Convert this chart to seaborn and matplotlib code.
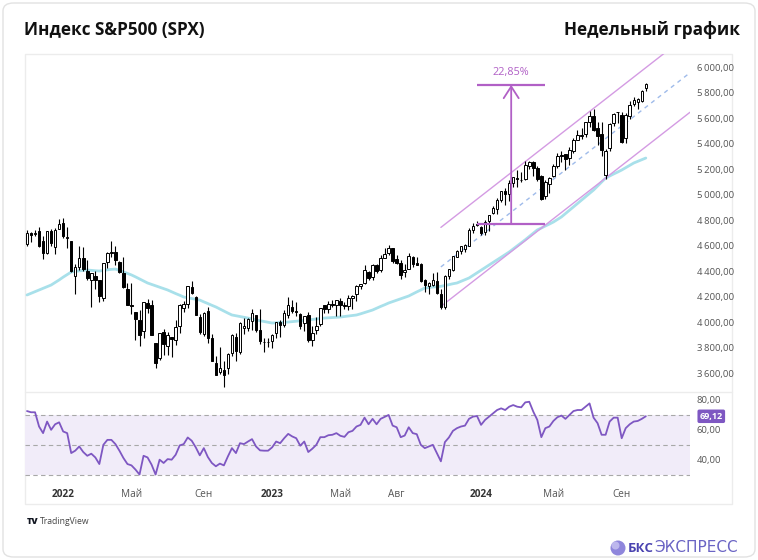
import numpy as np
import pandas as pd
import seaborn as sns
import matplotlib.pyplot as plt
from matplotlib.patches import FancyBboxPatch, Rectangle, Ellipse
from matplotlib.lines import Line2D
from matplotlib.transforms import blended_transform_factory

# Недельные свечи SPX: с первой недели ноября 2021 по середину октября 2024
opens = [4610, 4697, 4689, 4712, 4633, 4542, 4710, 4587, 4733, 4778,
         4655, 4632, 4357, 4431, 4505, 4402, 4332, 4363, 4327, 4188,
         4469, 4541, 4547, 4474, 4385, 4255, 4130, 4082, 4013, 3927,
         4151, 4134, 3838, 3715, 3920, 3815, 3880, 3860, 3965, 4113,
         4140, 4275, 4195, 4041, 3909, 4084, 3872, 3682, 3610, 3620,
         3638, 3755, 3881, 3767, 3950, 3956, 4006, 4053, 3939, 3841,
         3843, 3853, 3910, 3999, 3979, 4053, 4119, 4083, 4065, 3992,
         4055, 3859, 3937, 3982, 4130, 4100, 4138, 4130, 4166, 4136,
         4126, 4190, 4220, 4282, 4308, 4396, 4355, 4450, 4404, 4505,
         4543, 4579, 4492, 4459, 4389, 4415, 4511, 4463, 4453, 4330,
         4284, 4289, 4320, 4217, 4120, 4364, 4406, 4513, 4554, 4570,
         4593, 4725, 4758, 4745, 4703, 4792, 4853, 4888, 4957, 5027,
         5004, 5094, 5131, 5111, 5123, 5220, 5258, 5211, 5149, 4988,
         5084, 5142, 5225, 5310, 5315, 5283, 5341, 5431, 5459, 5471,
         5572, 5616, 5522, 5476, 5151, 5364, 5562, 5644, 5624, 5442,
         5615, 5712, 5727, 5737, 5838]
highs = [4718, 4708, 4718, 4744, 4672, 4713, 4731, 4740, 4808, 4818,
         4748, 4632, 4453, 4595, 4590, 4489, 4385, 4402, 4327, 4465,
         4546, 4637, 4593, 4475, 4513, 4308, 4307, 4082, 4091, 4158,
         4177, 4169, 3838, 3913, 3945, 3918, 3880, 4012, 4140, 4167,
         4280, 4325, 4204, 4062, 4076, 4119, 3906, 3733, 3806, 3694,
         3757, 3905, 3911, 4001, 4028, 4034, 4100, 4053, 4101, 3878,
         3878, 3906, 4003, 4015, 4095, 4195, 4176, 4156, 4067, 4048,
         4078, 3969, 4039, 4110, 4133, 4164, 4170, 4170, 4186, 4154,
         4212, 4212, 4290, 4299, 4448, 4400, 4458, 4456, 4527, 4578,
         4607, 4584, 4528, 4490, 4458, 4541, 4514, 4511, 4464, 4338,
         4317, 4385, 4393, 4255, 4366, 4415, 4521, 4568, 4599, 4609,
         4738, 4778, 4793, 4755, 4802, 4842, 4907, 4975, 5030, 5048,
         5111, 5140, 5190, 5179, 5262, 5265, 5265, 5222, 5151, 5114,
         5139, 5240, 5325, 5341, 5315, 5375, 5447, 5505, 5524, 5570,
         5655, 5670, 5566, 5566, 5360, 5564, 5643, 5651, 5651, 5636,
         5733, 5767, 5757, 5822, 5878]
lows = [4595, 4630, 4672, 4585, 4495, 4532, 4600, 4531, 4733, 4662,
        4582, 4395, 4222, 4405, 4401, 4327, 4114, 4262, 4157, 4161,
        4425, 4506, 4450, 4381, 4267, 4131, 4063, 3859, 3811, 3875,
        4074, 3900, 3636, 3702, 3738, 3742, 3722, 3819, 3911, 4080,
        4112, 4218, 4057, 3907, 3887, 3837, 3693, 3584, 3590, 3491,
        3590, 3735, 3698, 3751, 3906, 3933, 3940, 3918, 3827, 3764,
        3801, 3794, 3877, 3885, 3961, 4030, 4068, 4048, 3944, 3928,
        3846, 3809, 3908, 3966, 4069, 4072, 4114, 4049, 4048, 4099,
        4098, 4103, 4166, 4261, 4298, 4328, 4328, 4385, 4389, 4504,
        4528, 4463, 4457, 4335, 4356, 4414, 4430, 4448, 4316, 4238,
        4216, 4283, 4223, 4104, 4103, 4341, 4401, 4511, 4537, 4546,
        4593, 4697, 4751, 4682, 4682, 4714, 4845, 4845, 4940, 4920,
        4946, 5055, 5057, 5095, 5110, 5203, 5146, 5107, 4953, 4963,
        5011, 5139, 5211, 5256, 5192, 5234, 5325, 5431, 5433, 5448,
        5528, 5497, 5390, 5305, 5119, 5339, 5538, 5560, 5406, 5402,
        5596, 5698, 5674, 5729, 5810]
closes = [4697, 4683, 4698, 4595, 4538, 4712, 4621, 4725, 4766, 4677,
          4663, 4398, 4432, 4501, 4419, 4349, 4385, 4329, 4204, 4463,
          4543, 4546, 4488, 4393, 4272, 4132, 4123, 4024, 3901, 4158,
          4109, 3901, 3675, 3912, 3825, 3899, 3863, 3962, 4130, 4145,
          4280, 4228, 4057, 3924, 4067, 3873, 3693, 3586, 3640, 3583,
          3752, 3901, 3771, 3993, 3965, 4026, 4072, 3934, 3852, 3845,
          3840, 3895, 3999, 3973, 4071, 4136, 4090, 4079, 3970, 4046,
          3862, 3917, 3971, 4109, 4105, 4138, 4133, 4169, 4136, 4124,
          4192, 4205, 4282, 4299, 4409, 4348, 4450, 4399, 4505, 4536,
          4582, 4478, 4464, 4370, 4406, 4516, 4457, 4450, 4320, 4288,
          4309, 4327, 4224, 4117, 4358, 4415, 4514, 4559, 4595, 4604,
          4719, 4755, 4770, 4697, 4784, 4840, 4891, 4959, 5027, 5006,
          5089, 5137, 5124, 5117, 5234, 5254, 5204, 5123, 4967, 5100,
          5128, 5223, 5303, 5305, 5278, 5347, 5431, 5465, 5460, 5567,
          5615, 5505, 5459, 5346, 5344, 5554, 5634, 5648, 5408, 5626,
          5703, 5738, 5751, 5815, 5864]
# скользящая средняя (голубая линия)
ma50 = [4212, 4225, 4238, 4251, 4264, 4277, 4290, 4310, 4330, 4352,
        4372, 4392, 4397, 4401, 4405, 4408, 4405, 4402, 4400, 4404,
        4409, 4413, 4415, 4405, 4393, 4381, 4369, 4354, 4338, 4322,
        4306, 4295, 4284, 4273, 4262, 4251, 4237, 4223, 4210, 4196,
        4190, 4184, 4178, 4172, 4158, 4145, 4131, 4118, 4102, 4086,
        4070, 4055, 4049, 4043, 4037, 4031, 4024, 4016, 4010, 4004,
        3998, 3992, 3994, 3996, 3998, 4000, 4003, 4006, 4010, 4013,
        4016, 4020, 4024, 4027, 4031, 4033, 4035, 4037, 4039, 4043,
        4047, 4051, 4055, 4064, 4074, 4084, 4094, 4108, 4122, 4135,
        4149, 4160, 4171, 4182, 4193, 4204, 4220, 4236, 4251, 4267,
        4270, 4274, 4277, 4280, 4286, 4293, 4300, 4306, 4319, 4332,
        4345, 4365, 4386, 4406, 4427, 4447, 4467, 4488, 4508, 4529,
        4549, 4573, 4596, 4620, 4645, 4671, 4696, 4722, 4737, 4753,
        4768, 4784, 4804, 4824, 4850, 4877, 4903, 4930, 4956, 4982,
        5009, 5035, 5066, 5098, 5129, 5145, 5161, 5176, 5192, 5210,
        5229, 5247, 5260, 5273, 5286]
rsi = [72.6, 71.8, 71.8, 62.3, 57.9, 65.6, 60.1, 63.8, 65.1, 59.0,
       57.9, 44.6, 46.2, 49.0, 45.3, 42.8, 44.2, 41.7, 37.3, 50.1,
       53.4, 53.4, 50.6, 46.2, 41.3, 37.3, 36.4, 33.6, 30.3, 42.8,
       41.7, 36.9, 30.3, 40.2, 38.0, 40.6, 40.2, 43.5, 49.7, 50.6,
       55.0, 52.8, 48.4, 43.1, 47.9, 42.0, 38.0, 35.8, 37.6, 36.4,
       42.4, 47.9, 44.6, 51.2, 50.6, 52.3, 53.9, 49.0, 46.4, 46.2,
       46.2, 48.4, 52.3, 51.2, 54.5, 57.4, 55.7, 54.5, 49.5, 52.3,
       45.3, 47.5, 50.1, 55.2, 55.2, 56.5, 56.8, 57.9, 56.1, 55.4,
       58.5, 59.4, 62.3, 63.4, 68.2, 63.8, 67.4, 63.8, 67.4, 68.7,
       70.0, 62.9, 61.8, 55.2, 56.3, 61.8, 57.9, 57.2, 50.1, 47.9,
       49.0, 50.1, 44.6, 39.1, 51.9, 55.0, 59.4, 61.2, 62.3, 62.9,
       67.4, 68.9, 69.3, 63.4, 66.7, 68.9, 71.1, 73.3, 74.4, 73.3,
       75.5, 76.6, 75.5, 75.1, 78.4, 78.8, 72.2, 66.7, 55.2, 61.2,
       62.3, 66.0, 68.5, 69.6, 67.4, 70.0, 72.6, 73.3, 73.3, 75.5,
       77.7, 68.2, 64.5, 56.8, 56.8, 65.6, 68.2, 68.2, 54.5, 61.2,
       63.8, 65.6, 66.0, 67.4, 69.12]

tick_months = ["2022-01", "2022-05", "2022-09", "2023-01", "2023-05",
               "2023-08", "2024-01", "2024-05", "2024-09"]
tick_labels = ["2022", "Май", "Сен", "2023", "Май", "Авг", "2024", "Май", "Сен"]
price_ticks = [3600, 3800, 4000, 4200, 4400, 4600, 4800, 5000, 5200, 5400, 5600, 5800, 6000]
rsi_ticks = [40, 60, 80]
rsi_levels = [30, 50, 70]

# канал (номера недель и цены на концах)
channel_weeks = [103, 165]
channel_lower = [4122, 5645]
channel_upper = [4742, 6265]
# измерение роста
measure_weeks = [112, 129]
measure_low = 4770
measure_high = 5860

dates = pd.date_range("2021-11-01", periods=len(closes), freq="W-MON")
df = pd.DataFrame({"date": dates, "open": opens, "high": highs, "low": lows,
                   "close": closes, "ma": ma50, "rsi": rsi})
df["n"] = np.arange(len(df))

sns.set_theme(style="white")
plt.rcParams["font.family"] = ["Open Sans", "DejaVu Sans"]

W, H = 758, 560
fig = plt.figure(figsize=(W / 100, H / 100), dpi=100)


def box(x0, y0, x1, y1):
    # пиксели -> доли фигуры
    return [x0 / W, 1 - y1 / H, (x1 - x0) / W, (y1 - y0) / H]


# карточка и рамка графика (под осями)
fig.patches.append(FancyBboxPatch((3 / W, 3 / H), 752 / W, 554 / H,
                                  boxstyle="round,pad=0,rounding_size=0.014",
                                  transform=fig.transFigure, fc="white", ec="#e2e2e2", lw=1,
                                  zorder=-10))
fig.patches.append(Rectangle((25 / W, 1 - 504 / H), 707 / W, 450 / H, transform=fig.transFigure,
                             fill=False, ec="#ececec", lw=1, zorder=-5))
fig.lines.append(Line2D([25 / W, 732 / W], [1 - 392 / H, 1 - 392 / H],
                        transform=fig.transFigure, color="#ececec", lw=1, zorder=-5))

ax = fig.add_axes(box(25, 54, 690, 392))
ax_rsi = fig.add_axes(box(25, 392, 690, 481), sharex=ax)
for a in (ax, ax_rsi):
    a.set_facecolor("none")
    sns.despine(ax=a, left=True, bottom=True, right=True, top=True)

# свечи
up = df["close"] >= df["open"]
ax.vlines(df["n"], df["low"], df["high"], color="black", lw=0.8, zorder=2)
body_bottom = df[["open", "close"]].min(axis=1)
body_h = (df["close"] - df["open"]).abs().clip(lower=5)
ax.bar(df["n"], body_h, bottom=body_bottom, width=0.62,
       color=np.where(up, "white", "black"), edgecolor="black", linewidth=0.7, zorder=3)

sns.lineplot(data=df, x="n", y="ma", ax=ax, color="#a8e0ea", lw=2, zorder=1)

# канал
ch_col = "#d49be3"
ax.plot(channel_weeks, channel_upper, color=ch_col, lw=1, zorder=1)
ax.plot(channel_weeks, channel_lower, color=ch_col, lw=1, zorder=1)
channel_mid = [(a + b) / 2 for a, b in zip(channel_lower, channel_upper)]
ax.plot(channel_weeks, channel_mid, color="#9fbbea", lw=1, ls=(0, (3, 3)), zorder=1)

# измерение
m_col = "#b160c6"
ax.hlines([measure_low, measure_high], measure_weeks[0], measure_weeks[1], color=m_col, lw=1.6, zorder=4)
xm = sum(measure_weeks) / 2
ax.annotate("", xy=(xm, measure_high), xytext=(xm, measure_low),
            arrowprops=dict(arrowstyle="->,head_length=0.7,head_width=0.45", color=m_col, lw=1.3,
                            shrinkA=0, shrinkB=0), zorder=4)
pct = (measure_high / measure_low - 1) * 100
ax.text(xm, measure_high + 50, f"{pct:.2f}%".replace(".", ","), color=m_col,
        ha="center", va="bottom", fontsize=7.8)

ax.set_xlim(-0.5, 165)
ax.set_ylim(3451, 6102)
ax.set_xlabel("")
ax.set_ylabel("")
ax.yaxis.tick_right()
ax.set_yticks(price_ticks)
ax.set_yticklabels([f"{v:,.2f}".replace(",", "\u2009").replace(".", ",") for v in price_ticks])
ax.tick_params(axis="y", length=0, pad=5, labelsize=6.8, labelcolor="#555555")
ax.tick_params(axis="x", bottom=False, labelbottom=False)

# RSI
ax_rsi.axhspan(30, 70, color="#f1ecf9", zorder=0, lw=0)
for lvl in rsi_levels:
    ax_rsi.axhline(lvl, color="#a8a8a8", lw=0.8, ls=(0, (4, 3)), zorder=1)
sns.lineplot(data=df, x="n", y="rsi", ax=ax_rsi, color="#7e57c2", lw=1.3, zorder=2)
ax_rsi.set_ylim(26, 85.3)
ax_rsi.set_xlabel("")
ax_rsi.set_ylabel("")
ax_rsi.yaxis.tick_right()
ax_rsi.set_yticks(rsi_ticks)
ax_rsi.set_yticklabels([f"{v:.2f}".replace(".", ",") for v in rsi_ticks])
ax_rsi.tick_params(axis="y", length=0, pad=5, labelsize=6.8, labelcolor="#555555")

last = df["rsi"].iloc[-1]
tr = blended_transform_factory(ax_rsi.transAxes, ax_rsi.transData)
ax_rsi.text(1.032, last, f"{last:.2f}".replace(".", ","), transform=tr, ha="center", va="center",
            fontsize=6.5, color="white", fontweight="bold", clip_on=False,
            bbox=dict(boxstyle="round,pad=0.25,rounding_size=0.2", fc="#7e57c2", ec="none"))

month_str = df["date"].dt.strftime("%Y-%m")
tick_pos = [int((month_str == m).idxmax()) for m in tick_months]
ax_rsi.set_xticks(tick_pos)
ax_rsi.set_xticklabels(tick_labels)
ax_rsi.tick_params(axis="x", length=0, pad=6, labelsize=7.2)
for lab in ax_rsi.get_xticklabels():
    if lab.get_text().isdigit():
        lab.set_fontweight("bold")
        lab.set_color("#333333")
    else:
        lab.set_color("#555555")

# заголовки
fig.text(24 / W, 1 - 30 / H, "Индекс S&P500 (SPX)", fontsize=12.3, fontweight="bold",
         color="#111111", va="center", ha="left")
fig.text(740 / W, 1 - 30 / H, "Недельный график", fontsize=12.3, fontweight="bold",
         color="#111111", va="center", ha="right")

# логотипы
fig.text(27 / W, 1 - 522 / H, "TV", fontsize=6.5, fontweight="heavy", color="#131722", va="center")
fig.text(40 / W, 1 - 522 / H, "TradingView", fontsize=6.2, color="#444444", va="center")
fig.patches.append(Ellipse((618 / W, 1 - 548 / H), 15 / W, 15 / H, transform=fig.transFigure,
                           fc="#8f86dc", ec="none"))
fig.patches.append(Ellipse((615.5 / W, 1 - 545.5 / H), 8 / W, 8 / H, transform=fig.transFigure,
                           fc="#c9c4f2", ec="none", alpha=0.8))
fig.text(628 / W, 1 - 548 / H, "БКС", fontsize=9.5, fontweight="bold", color="#4a43b0", va="center")
fig.text(654 / W, 1 - 548 / H, "ЭКСПРЕСС", fontsize=11, color="#6a64c4", va="center",
         family=["DejaVu Sans"])

fig.savefig("out.png", dpi=100)
